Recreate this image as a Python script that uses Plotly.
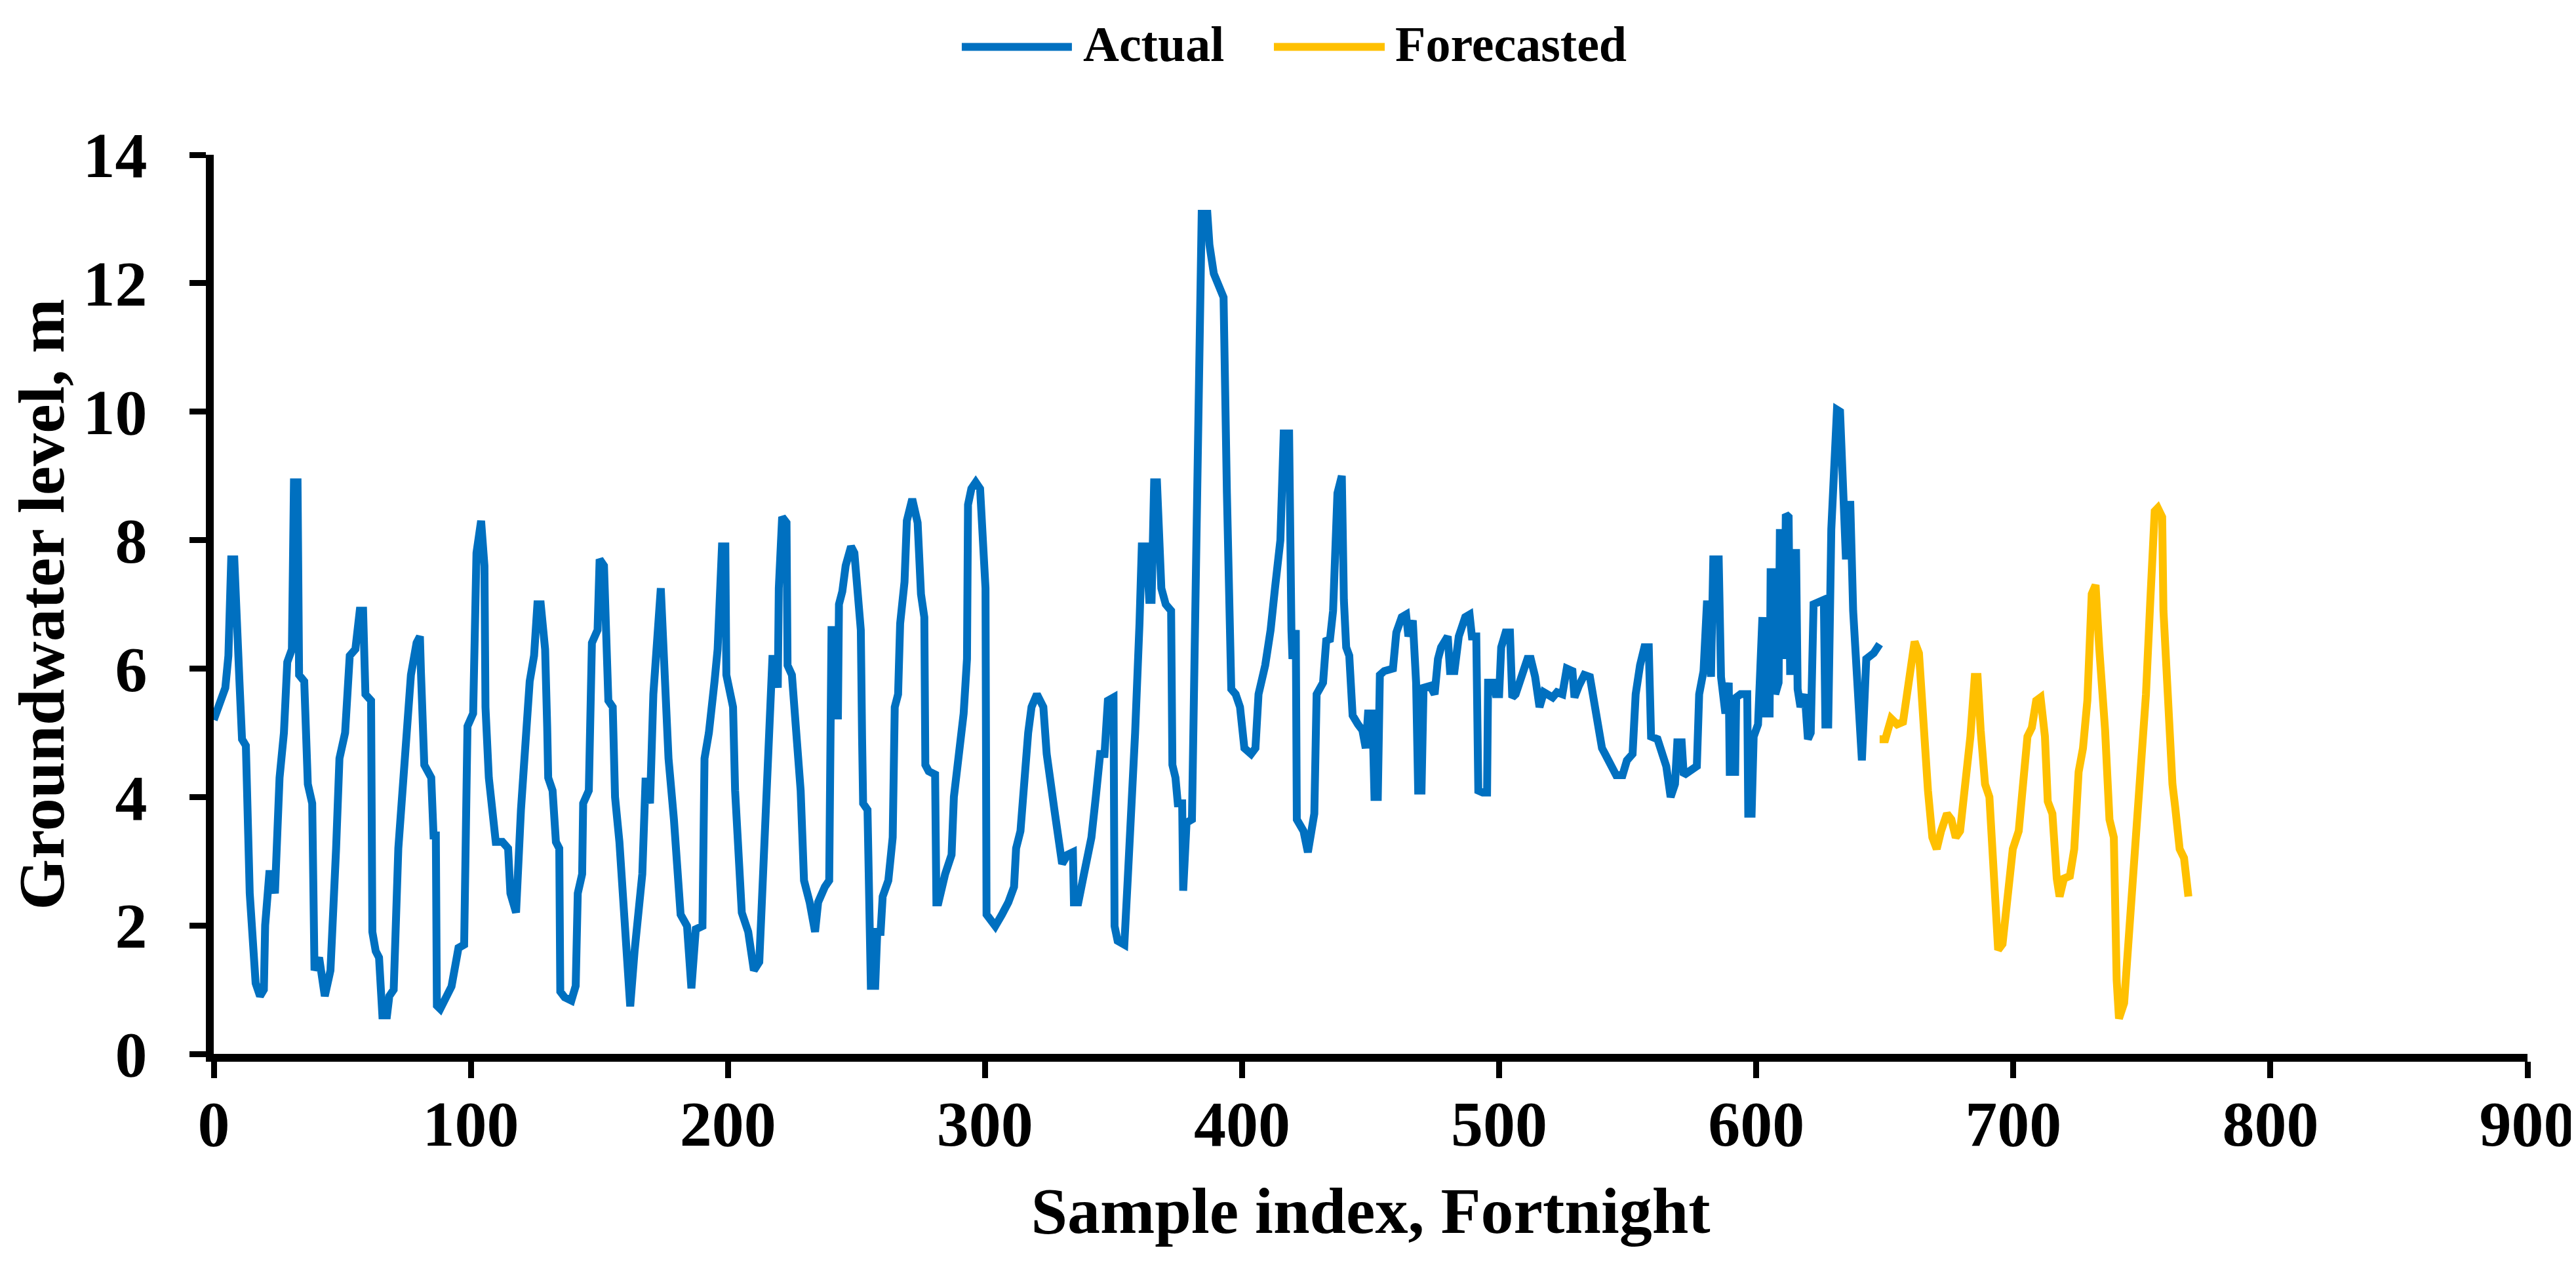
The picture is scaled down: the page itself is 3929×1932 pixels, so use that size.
import plotly.graph_objects as go

# Actual groundwater level (sample index, level in m)
actual_x = [
    0, 2, 4.5, 5.7, 6.8, 8, 9, 10, 11, 12.5, 14, 16.3, 18, 19.5, 20, 21.6, 22.5, 23.8, 25.6, 27.3,
    28.6, 30.4, 31.2, 32.6, 33.2, 35.2, 36.6, 37.5, 38.3, 39.2, 41, 43.2, 45.4, 47.6, 48.9, 51.1,
    52.9, 55.1, 56.8, 58.1, 59, 61.2, 61.7, 63, 64.3, 65.6, 67.4, 68.3, 70, 71.8, 73.6, 75.3,
    76.7, 78.9, 80.2, 80.6, 81.9, 84.6, 85.5, 86.4, 86.8, 88.1, 92.5, 95.2, 97.4, 98.7, 100.9,
    102.2, 104, 105.3, 105.7, 107, 109.7, 112.3, 114.5, 115.4, 117.6, 119.5, 121.2, 122.9, 124.6,
    125.9, 127.2, 128.9, 129.7, 130.1, 131.8, 133.1, 134.4, 134.8, 136.5, 139.1, 140.8, 141.6,
    143.3, 143.7, 145.9, 147.1, 149.3, 150.1, 151.8, 152.7, 153.5, 155.2, 156.1, 157.8, 159.5,
    160.7, 162, 163.7, 166.7, 168, 169.7, 171, 173.9, 175.2, 176.9, 179, 181.6, 184.1, 185.8,
    187.5, 190.1, 190.9, 192.6, 194.8, 196, 197.7, 199, 199.4, 202, 202.8, 204.5, 205.4, 207.9,
    210.1, 212.2, 214.7, 216, 217.3, 218.6, 219.4, 219.8, 221.1, 222.8, 223.2, 224.9, 226.6,
    228.3, 229.6, 231.8, 233.9, 235.1, 237.7, 239.4, 240.3, 241.1, 241.5, 242.8, 243.2, 244.5,
    245.8, 247.9, 249.2, 250.5, 251.7, 252.2, 252.6, 254.3, 254.7, 255.6, 257.3, 258.1, 259.4,
    260.2, 262.4, 264.1, 264.9, 266.2, 267, 268.7, 269.6, 271.7, 273.8, 275.1, 276.4, 276.8,
    278.1, 280.6, 281.1, 281.9, 284.5, 287, 287.9, 289.6, 291.7, 293, 293.4, 294.7, 296.4, 298.1,
    299.8, 300.2, 300.6, 302.3, 304, 306.6, 309.1, 311.3, 312.1, 313.8, 315.5, 316.8, 318.1,
    320.2, 322.7, 324, 327, 329.1, 330, 332.1, 334.2, 334.6, 336.3, 338.5, 341.4, 343.1, 344.8,
    346.5, 347.8, 350, 350.4, 351.6, 354.2, 355.5, 357.2, 358.4, 360.1, 361, 362.7, 363.9, 364.8,
    365.8, 366.9, 367.8, 368.6, 370.3, 372.4, 372.9, 374.1, 375, 376.7, 377.1, 378.4, 380.5,
    382.6, 384.3, 386.5, 387.3, 389, 391.1, 392.8, 394.1, 395.8, 397.5, 399.2, 400.9, 403.5,
    405.2, 406.4, 409, 411.1, 412.8, 414.9, 416.2, 418.3, 419.2, 419.6, 420.9, 421.3, 423.9,
    425.6, 428.1, 429, 431.5, 432.8, 434.1, 435.4, 437.1, 438.8, 439.6, 440.5, 441.7, 443, 445.1,
    446.8, 448.1, 449, 450.7, 451.5, 452.8, 453.6, 455.3, 458.7, 460, 462.1, 463.8, 464.7, 466.4,
    467.7, 468.5, 469.8, 470.6, 473.2, 474.9, 476.2, 477.4, 480, 480.9, 482.6, 484.3, 486.8,
    488.5, 489.4, 491.1, 491.9, 493.6, 495.3, 495.7, 497.9, 498.7, 500, 500.8, 502.5, 504.2,
    505.1, 506.4, 508.9, 511, 512.3, 514, 515.7, 517.4, 520.8, 522.5, 524.6, 526.3, 528.5, 529.3,
    531, 533.1, 535.3, 537, 538.7, 540, 541.2, 543.8, 545.5, 548, 549.7, 551.9, 553.1, 554.8,
    556.5, 558.2, 559.1, 561.6, 563.8, 565, 566.7, 568.4, 569.3, 571, 571.8, 573.5, 575.2, 576.9,
    577.8, 579.5, 580.8, 582, 582.4, 583.3, 585.4, 586.3, 588, 589.3, 589.7, 591.8, 592.2, 593.9,
    596.5, 596.9, 598.2, 599, 600.7, 602.4, 603, 605.2, 605.6, 607, 607.4, 608.7, 609.2, 611,
    611.5, 612.6, 613.2, 614.4, 615.5, 616.1, 617.2, 618.9, 620.1, 621.2, 622.3, 625.2, 626.3,
    626.9, 628, 629.2, 630.3, 631.4, 632.6, 633.7, 634.9, 636, 636.6, 637.7, 640, 641.1, 642.8,
    645.7, 648,
]
actual_y = [
    5.2, 5.4, 5.7, 6.2, 7.7, 7.7, 6.4, 5.8, 4.9, 4.8, 2.5, 1.1, 0.9, 1.0, 2.0, 2.8, 2.8, 2.5, 4.3, 5.0,
    6.1, 6.3, 8.9, 8.9, 5.9, 5.8, 4.2, 4.0, 3.9, 1.3, 1.5, 0.9, 1.3, 3.2, 4.6, 5.0,
    6.2, 6.3, 6.9, 6.9, 5.6, 5.5, 1.9, 1.6, 1.5, 0.6, 0.6, 0.9, 1.0, 3.2, 4.1, 5.2,
    5.9, 6.4, 6.5, 5.95, 4.5, 4.3, 3.4, 3.4, 0.75, 0.7, 1.05, 1.65, 1.7, 5.1, 5.3,
    7.8, 8.3, 7.6, 5.4, 4.3, 3.3, 3.3, 3.2, 2.5, 2.2, 3.8, 4.9, 5.8, 6.2,
    7.0, 7.0, 6.3, 5.1, 4.3, 4.1, 3.3, 3.2, 0.97, 0.88, 0.83, 1.06, 2.5,
    2.8, 3.9, 4.1, 6.4, 6.6, 7.7, 7.6, 6.2, 5.5, 5.4, 4.0, 3.3, 2.26,
    1.99, 0.74, 1.6, 2.8, 4.3, 3.9, 5.6, 7.25, 6.1, 4.6, 3.65, 2.17, 1.99, 1.02,
    1.94, 1.99, 4.6, 5.0, 5.8, 6.3, 7.9, 7.9, 5.9, 5.4, 4.1, 2.9, 2.2, 1.9,
    1.3, 1.43, 4.1, 5.0, 6.15, 6.15, 5.7, 7.25, 8.36, 8.27, 6.05, 5.9, 4.76,
    4.1, 2.7, 2.36, 1.9, 2.36, 2.6, 2.7, 6.6, 6.6, 5.27, 5.27, 7.0, 7.2,
    7.6, 7.9, 7.8, 6.9, 6.6, 4.9, 3.9, 3.8, 2.1, 1.06, 1.06, 1.9, 1.9,
    2.45, 2.7, 3.37, 5.4, 5.6, 6.7, 7.35, 8.3, 8.64, 8.27, 7.16, 6.8, 4.5,
    4.4, 4.35, 2.36, 2.36, 2.8, 3.1, 4.0, 4.67, 5.3, 6.15, 8.55, 8.8, 8.9, 8.8,
    7.6, 7.25, 2.17, 2.08, 1.99, 2.17, 2.36, 2.6, 3.2, 3.47, 4.4, 5.0, 5.4,
    5.6, 5.4, 4.67, 3.8, 3.1, 2.96, 3.1, 3.14, 2.36, 2.36, 2.8, 3.37, 4.0, 4.67,
    4.67, 5.5, 5.55, 1.99, 1.76, 1.7, 2.7, 3.8, 5.0, 6.7, 7.9, 7.9, 7.07, 7.07,
    8.9, 8.9, 7.8, 7.25, 7.0, 6.9, 4.5, 4.3, 3.9, 3.9, 2.54, 3.6, 3.65,
    9.66, 13.08, 13.08, 12.6, 12.15, 11.97, 11.78, 8.73, 5.68, 5.6, 5.4, 4.76, 4.67,
    4.76, 5.6, 6.05, 6.6, 7.25, 8.0, 9.66, 9.66, 6.6, 6.15, 6.6, 3.65, 3.47,
    3.14, 3.74, 5.6, 5.78, 6.47, 6.42, 6.9, 8.73, 9.0, 7.07, 6.33, 6.2, 5.27, 5.13,
    5.04, 4.76, 5.3, 5.3, 4.0, 4.0, 5.9, 5.96, 6.0, 6.56, 6.8, 6.84, 6.5, 6.75,
    5.78, 4.1, 4.1, 5.7, 5.73, 5.6, 6.15, 6.33, 6.5, 5.96, 5.96, 6.5, 6.8,
    6.84, 6.5, 6.5, 4.1, 4.07, 4.07, 5.78, 5.78, 5.6, 5.6, 6.33, 6.56, 6.56,
    5.55, 5.6, 5.87, 6.15, 6.15, 5.87, 5.4, 5.63, 5.55, 5.63, 5.6, 6.0, 5.96, 5.55,
    5.73, 5.9, 5.87, 5.4, 5.13, 4.76, 4.67, 4.48, 4.34, 4.34, 4.57, 4.67, 5.6, 6.05,
    6.33, 6.33, 4.94, 4.9, 4.67, 4.48, 4.0, 4.2, 4.85, 4.85, 4.34, 4.39, 4.43, 4.48,
    5.6, 5.96, 7.0, 7.0, 5.87, 7.7, 7.7, 5.87, 5.3, 5.78, 4.39, 4.39, 5.55, 5.6,
    5.6, 3.74, 3.74, 4.94, 5.13, 6.8, 5.3, 5.3, 7.5, 7.5, 5.6, 5.78, 8.17, 6.15,
    8.4, 8.36, 5.9, 7.8, 7.8, 5.68, 5.4, 5.6, 4.9, 5.0, 7.0, 7.07, 7.07,
    5.13, 5.13, 8.17, 9.57, 10.03, 10.0, 8.73, 7.7, 8.55, 8.55, 6.9, 5.04, 4.57, 6.15,
    6.24, 6.38,
]

# Forecasted groundwater level
forecast_x = [
    648, 650.2, 652.5, 654.8, 657.1, 659.3, 661.6, 663.3, 665, 666.8, 668.5, 670.2, 671.9, 674.2,
    675.9, 677.6, 679.3, 681, 683.3, 685, 686.1, 687.3, 689, 690.7, 692.4, 694.1, 695.8, 697.5,
    699.8, 702.1, 703.8, 705.5, 707.2, 708.9, 710.6, 712.3, 713.4, 715.2, 716.9, 718, 719.7,
    722, 723.7, 725.4, 727.1, 728.8, 730.5, 732, 733.4, 735.7, 737.4, 739.1, 740.2, 741.1,
    743.1, 744.8, 746.5, 748.2, 749.9, 751.6, 753.3, 755, 756.2, 757.9, 758.4, 760.1, 761.9,
    763, 764.7, 766.4, 768.1,
]
forecast_y = [
    4.9, 4.9, 5.22, 5.13, 5.17, 5.78, 6.42, 6.24, 4.94, 4.1, 3.37, 3.19, 3.47, 3.74,
    3.65, 3.37, 3.47, 4.0, 4.94, 5.87, 5.87, 5.04, 4.2, 4.0, 2.73, 1.62, 1.71, 2.26,
    3.19, 3.47, 4.1, 4.94, 5.08, 5.5, 5.55, 4.94, 3.93, 3.74, 2.73, 2.45, 2.73,
    2.77, 3.19, 4.39, 4.76, 5.5, 7.16, 7.3, 6.33, 5.04, 3.65, 3.37, 1.15, 0.55,
    0.79, 1.8, 2.63, 3.56, 4.67, 5.6, 7.07, 8.45, 8.5, 8.36, 6.9, 5.4, 4.2,
    3.83, 3.19, 3.05, 2.45,
]

series_names = ["Actual", "Forecasted"]
series_colors = ["#0070C0", "#FFC000"]

FONT = "Liberation Serif"


def axis_style(title: str, rng: list, dtick: int, standoff: int) -> dict:
    return dict(
        title=dict(text=title, standoff=standoff,
                   font=dict(family=FONT, size=100, color="black", weight="bold")),
        range=rng, dtick=dtick, showgrid=False, zeroline=False,
        showline=True, linewidth=12, linecolor="black",
        ticks="outside", ticklen=25, tickwidth=9, tickcolor="black",
        tickfont=dict(family=FONT, size=98, color="black", weight="bold"),
        automargin=False,
    )


fig = go.Figure()
fig.add_trace(go.Scatter(x=actual_x, y=actual_y, mode="lines", name=series_names[0],
                         line=dict(color=series_colors[0], width=12), showlegend=False))
fig.add_trace(go.Scatter(x=forecast_x, y=forecast_y, mode="lines", name=series_names[1],
                         line=dict(color=series_colors[1], width=12), showlegend=False))

# legend drawn by hand so the sample lines are as long as in the original
legend_items = [(0.3233, 0.3709, 0.3752), (0.4582, 0.5061, 0.5101)]
for (x0, x1, xt), name, color in zip(legend_items, series_names, series_colors):
    fig.add_shape(type="line", xref="paper", yref="paper", x0=x0, x1=x1, y0=1.12, y1=1.12,
                  line=dict(color=color, width=12))
    fig.add_annotation(xref="paper", yref="paper", x=xt, y=1.123, xanchor="left", yanchor="middle",
                       text=name, showarrow=False,
                       font=dict(family=FONT, size=76, color="black", weight="bold"))

fig.update_layout(
    width=3929, height=1932,
    margin=dict(l=318, r=82, t=228, b=333),
    plot_bgcolor="white", paper_bgcolor="white",
    xaxis=axis_style("Sample index, Fortnight", [0, 900], 100, 48),
    yaxis=axis_style("Groundwater level, m", [0, 14], 2, 52),
)
fig.update_xaxes(ticklabelstandoff=-15)
fig.update_yaxes(ticklabelstandoff=45)

fig.write_html("out.html")
